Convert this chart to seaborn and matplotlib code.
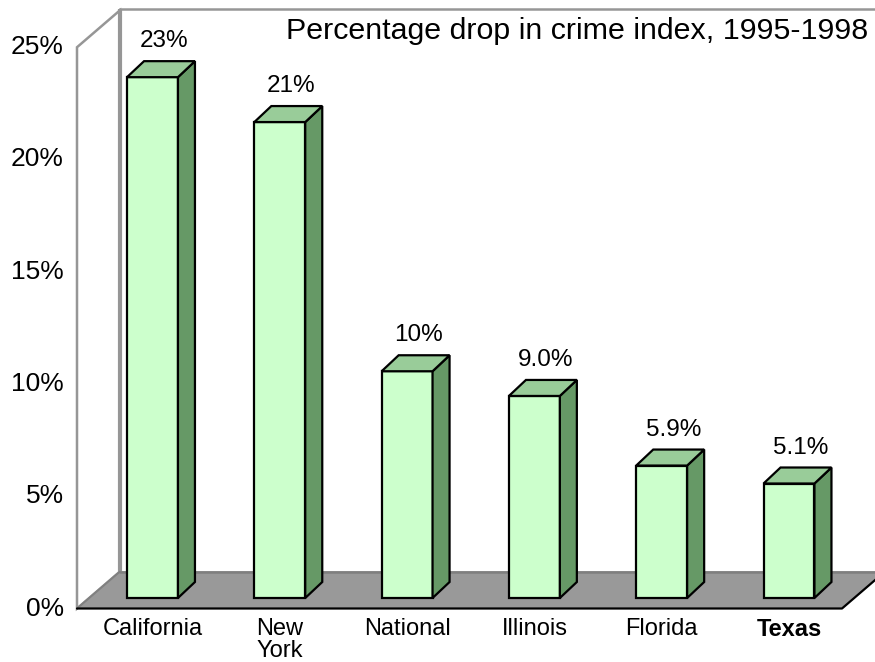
import matplotlib
matplotlib.use("Agg")
import matplotlib.pyplot as plt
import seaborn as sns
from matplotlib.patches import Polygon

# ---- data ----
categories = ["California", "New\nYork", "National", "Illinois", "Florida", "Texas"]
values = [23.2, 21.2, 10.1, 9.0, 5.9, 5.1]
value_labels = ["23%", "21%", "10%", "9.0%", "5.9%", "5.1%"]
ytick_values = [0, 5, 10, 15, 20, 25]
title = "Percentage drop in crime index, 1995-1998"

sns.set_theme(style="white")
plt.rcParams["font.family"] = ["Liberation Sans", "DejaVu Sans"]

W, H = 875, 662
fig = plt.figure(figsize=(W / 100, H / 100), dpi=100)
ax = fig.add_axes([0, 0, 1, 1])

# pixel geometry of the bar front plane
X0, SX = 152.5, 127.3   # pixel x of category 0, pixels per category
Y0, SY = 598.0, 22.45   # pixel y of 0%, pixels per percent


def dx(p):
    return p / SX


def dy(p):
    return -p / SY


def px_x(p):
    return (p - X0) / SX


def px_y(p):
    return (Y0 - p) / SY


FRONT = (dx(-13), dy(10.5))
BACK = (dx(30), dy(-26.5))
DEPTH = (dx(17), dy(-16))
XL, XR = px_x(90), px_x(855)
TOP = ytick_values[-1]

wall_grey = "#969696"
floor_grey = "#999999"

# side wall
side = Polygon([(XL + FRONT[0], FRONT[1]), (XL + FRONT[0], TOP + FRONT[1]),
                (XL + BACK[0], TOP + BACK[1]), (XL + BACK[0], BACK[1])],
               closed=True, facecolor="white", edgecolor=wall_grey, lw=1.8, zorder=0.5)
ax.add_patch(side)
# back wall
back = Polygon([(XL + BACK[0], BACK[1]), (XL + BACK[0], TOP + BACK[1] + dy(-1.5)),
                (XR + BACK[0] + 1, TOP + BACK[1] + dy(-1.5)), (XR + BACK[0] + 1, BACK[1])],
               closed=True, facecolor="white", edgecolor=wall_grey, lw=1.8, zorder=0.5)
ax.add_patch(back)
ax.plot([XL + BACK[0]] * 2, [BACK[1], TOP + BACK[1] + dy(-1.5)], color=wall_grey, lw=3.0,
        zorder=0.6, solid_capstyle="butt")
# floor
floor = Polygon([(XL + FRONT[0], FRONT[1]), (XR + FRONT[0], FRONT[1]),
                 (XR + BACK[0], BACK[1]), (XL + BACK[0], BACK[1])],
                closed=True, facecolor=floor_grey, edgecolor="none", zorder=0.7)
ax.add_patch(floor)
ax.plot([XL + BACK[0], XR + BACK[0]], [BACK[1], BACK[1]], color="#7f7f7f", lw=1.8, zorder=0.8)
ax.plot([XL + FRONT[0], XL + BACK[0]], [FRONT[1], BACK[1]], color="#808080", lw=1.4, zorder=0.8)
ax.plot([XL + FRONT[0], XR + FRONT[0], XR + BACK[0]], [FRONT[1], FRONT[1], BACK[1]],
        color="black", lw=1.6, zorder=0.8)

# bars (front faces)
sns.barplot(x=categories, y=values, width=0.40, color="#CCFFCC", saturation=1,
            edgecolor="black", linewidth=1.6, ax=ax, zorder=2)

bars = list(ax.containers[0])
for i, p in enumerate(bars):
    x, w, h = p.get_x(), p.get_width(), p.get_height()
    top_face = Polygon([(x, h), (x + w, h), (x + w + DEPTH[0], h + DEPTH[1]),
                        (x + DEPTH[0], h + DEPTH[1])], closed=True,
                       facecolor="#99CC99", edgecolor="black", lw=1.6, zorder=2.1,
                       joinstyle="miter")
    side_face = Polygon([(x + w, 0), (x + w + DEPTH[0], DEPTH[1]),
                         (x + w + DEPTH[0], h + DEPTH[1]), (x + w, h)], closed=True,
                        facecolor="#669966", edgecolor="black", lw=1.6, zorder=2.1,
                        joinstyle="miter")
    ax.add_patch(side_face)
    ax.add_patch(top_face)
    ax.text(x + w / 2 + DEPTH[0] / 2 + dx(3), h + DEPTH[1] + dy(-20), value_labels[i],
            ha="center", va="center", fontsize=17.5, color="black", zorder=3)
    ax.text(x + w / 2, px_y(618), categories[i], ha="center", va="top", fontsize=17,
            color="black", linespacing=1.0,
            fontweight="bold" if categories[i] == "Texas" else "normal")

# y tick labels on the front plane
for v in ytick_values:
    ax.text(px_x(64), v + FRONT[1], f"{v}%", ha="right", va="center", fontsize=19,
            color="black")

ax.text(px_x(868), px_y(31), title, ha="right", va="center", fontsize=21.9, color="black")

ax.set_xlim(px_x(0), px_x(W))
ax.set_ylim(px_y(H), px_y(0))
ax.axis("off")

fig.savefig("out.png", dpi=100)
